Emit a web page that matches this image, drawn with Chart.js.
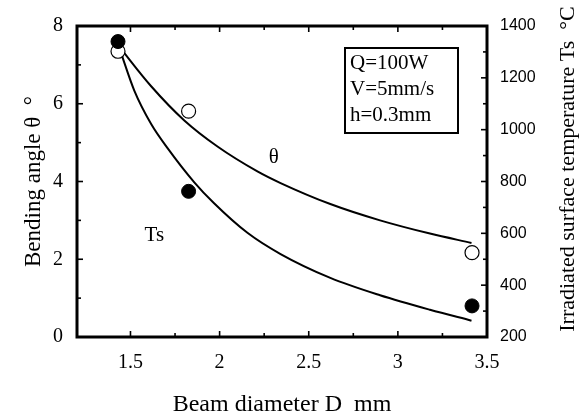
<!DOCTYPE html>
<html>
<head>
<meta charset="utf-8">
<script src="https://cdn.jsdelivr.net/npm/chart.js@4.4.1/dist/chart.umd.min.js"></script>
<style>
  html, body { margin: 0; padding: 0; background: #fff; }
  #wrap { width: 583px; height: 414px; }
</style>
</head>
<body>
<div id="wrap"><canvas id="chart"></canvas></div>
<script>
// measured points
const diameters = [1.43, 1.826, 3.416];
const bendAngle = [7.35, 5.81, 2.17];
const surfTemp = [1340, 762, 320];

// fitted curves
const thetaCurveX = [1.44, 1.616, 1.802, 1.988, 2.212, 2.342, 2.621, 2.90, 3.18, 3.413];
const thetaCurveY = [7.45, 6.45, 5.57, 4.90, 4.26, 3.96, 3.42, 3.00, 2.66, 2.42];
const tsCurveX = [1.44, 1.522, 1.616, 1.709, 1.858, 1.969, 2.156, 2.342, 2.621, 2.90, 3.18, 3.413];
const tsCurveY = [1310, 1150, 1022, 928, 797, 716, 602, 520, 428, 361, 305, 263];

// axis ticks
const xTicks = [1.5, 2, 2.5, 3, 3.5];
const xMinor = [1.75, 2.25, 2.75, 3.25];
const yTicks = [0, 2, 4, 6, 8];
const yMinor = [1, 3, 5, 7];
const y1Ticks = [200, 400, 600, 800, 1000, 1200, 1400];
const y1Minor = [300, 500, 700, 900, 1100, 1300];

// curve labels (data coords on left axis)
const curveLabels = [
  { text: 'θ', x: 2.304, y: 4.63 },
  { text: 'Ts', x: 1.634, y: 2.61 }
];
const conditions = ['Q=100W', 'V=5mm/s', 'h=0.3mm'];
const rightTitle = 'Irradiated surface temperature Ts  °C';

const serif = '"Liberation Serif", "Times New Roman", serif';
const sans = '"Liberation Sans", Arial, sans-serif';

const toPoints = (xs, ys) => xs.map((x, i) => ({ x: x, y: ys[i] }));

// frame, inward ticks, text annotations
const framePlugin = {
  id: 'frame',
  afterDraw(chart) {
    const ctx = chart.ctx;
    const a = chart.chartArea;
    const { x, y, y1 } = chart.scales;
    ctx.save();
    ctx.strokeStyle = '#000';
    ctx.lineWidth = 1.6;
    const tick = (x0, y0, x1, y1_) => {
      ctx.beginPath(); ctx.moveTo(x0, y0); ctx.lineTo(x1, y1_); ctx.stroke();
    };
    xTicks.forEach(v => {
      const px = x.getPixelForValue(v);
      tick(px, a.bottom, px, a.bottom - 6);
      tick(px, a.top, px, a.top + 6);
    });
    xMinor.forEach(v => {
      const px = x.getPixelForValue(v);
      tick(px, a.bottom, px, a.bottom - 4);
      tick(px, a.top, px, a.top + 4);
    });
    yTicks.forEach(v => { const py = y.getPixelForValue(v); tick(a.left, py, a.left + 6, py); });
    yMinor.forEach(v => { const py = y.getPixelForValue(v); tick(a.left, py, a.left + 4, py); });
    y1Ticks.forEach(v => { const py = y1.getPixelForValue(v); tick(a.right, py, a.right - 6, py); });
    y1Minor.forEach(v => { const py = y1.getPixelForValue(v); tick(a.right, py, a.right - 4, py); });

    ctx.lineWidth = 3;
    ctx.strokeRect(a.left, a.top, a.right - a.left, a.bottom - a.top);

    // curve labels
    ctx.fillStyle = '#000';
    ctx.font = '21px ' + serif;
    ctx.textAlign = 'center';
    ctx.textBaseline = 'middle';
    curveLabels.forEach(l => {
      ctx.fillText(l.text, x.getPixelForValue(l.x), y.getPixelForValue(l.y));
    });

    // conditions box
    const bx = a.right - 142, by = a.top + 22, bw = 113, bh = 85;
    ctx.lineWidth = 2;
    ctx.strokeRect(bx, by, bw, bh);
    ctx.font = '21px ' + serif;
    ctx.textAlign = 'left';
    conditions.forEach((t, i) => ctx.fillText(t, bx + 5, by + 15 + i * 26));

    // right axis title, reads bottom to top
    ctx.translate(568, 169);
    ctx.rotate(-Math.PI / 2);
    ctx.font = '22px ' + serif;
    ctx.textAlign = 'center';
    ctx.fillText(rightTitle, 0, 0);
    ctx.restore();
  }
};

new Chart(document.getElementById('chart'), {
  type: 'scatter',
  data: {
    datasets: [
      {
        label: 'Ts measured',
        data: toPoints(diameters, surfTemp),
        yAxisID: 'y1',
        pointRadius: 7,
        pointBackgroundColor: '#000',
        pointBorderColor: '#000',
        pointBorderWidth: 1
      },
      {
        label: 'θ measured',
        data: toPoints(diameters, bendAngle),
        yAxisID: 'y',
        pointRadius: 7,
        pointBackgroundColor: '#fff',
        pointBorderColor: '#000',
        pointBorderWidth: 1.2
      },
      {
        label: 'θ curve',
        data: toPoints(thetaCurveX, thetaCurveY),
        yAxisID: 'y',
        showLine: true,
        pointRadius: 0,
        borderColor: '#000',
        borderWidth: 2,
        cubicInterpolationMode: 'monotone'
      },
      {
        label: 'Ts curve',
        data: toPoints(tsCurveX, tsCurveY),
        yAxisID: 'y1',
        showLine: true,
        pointRadius: 0,
        borderColor: '#000',
        borderWidth: 2,
        cubicInterpolationMode: 'monotone'
      }
    ]
  },
  options: {
    responsive: true,
    maintainAspectRatio: false,
    animation: false,
    layout: { padding: { top: 20 } },
    plugins: {
      legend: { display: false },
      tooltip: { enabled: false }
    },
    scales: {
      x: {
        type: 'linear',
        min: 1.2,
        max: 3.5,
        afterBuildTicks: s => { s.ticks = xTicks.map(v => ({ value: v })); },
        afterFit: s => { s.height = 77; },
        grid: { display: false, drawTicks: false },
        border: { display: false },
        ticks: {
          color: '#000',
          padding: 14,
          font: { family: serif, size: 20 },
          callback: v => String(v)
        },
        title: {
          display: true,
          text: 'Beam diameter D  mm',
          color: '#000',
          font: { family: serif, size: 24, lineHeight: 0.8 },
          padding: { bottom: 0 }
        }
      },
      y: {
        position: 'left',
        min: 0,
        max: 8,
        afterBuildTicks: s => { s.ticks = yTicks.map(v => ({ value: v })); },
        afterFit: s => { s.width = 77; },
        grid: { display: false, drawTicks: false },
        border: { display: false },
        ticks: {
          color: '#000',
          padding: 14,
          font: { family: serif, size: 20 }
        },
        title: {
          display: true,
          text: 'Bending angle θ  °',
          color: '#000',
          font: { family: serif, size: 23 },
          padding: { top: 20 }
        }
      },
      y1: {
        position: 'right',
        min: 200,
        max: 1400,
        afterBuildTicks: s => { s.ticks = y1Ticks.map(v => ({ value: v })); },
        afterFit: s => { s.width = 96; },
        grid: { display: false, drawTicks: false },
        border: { display: false },
        ticks: {
          color: '#000',
          padding: 13,
          font: { family: sans, size: 16 },
          callback: v => String(v)
        }
      }
    }
  },
  plugins: [framePlugin]
});
</script>
</body>
</html>
